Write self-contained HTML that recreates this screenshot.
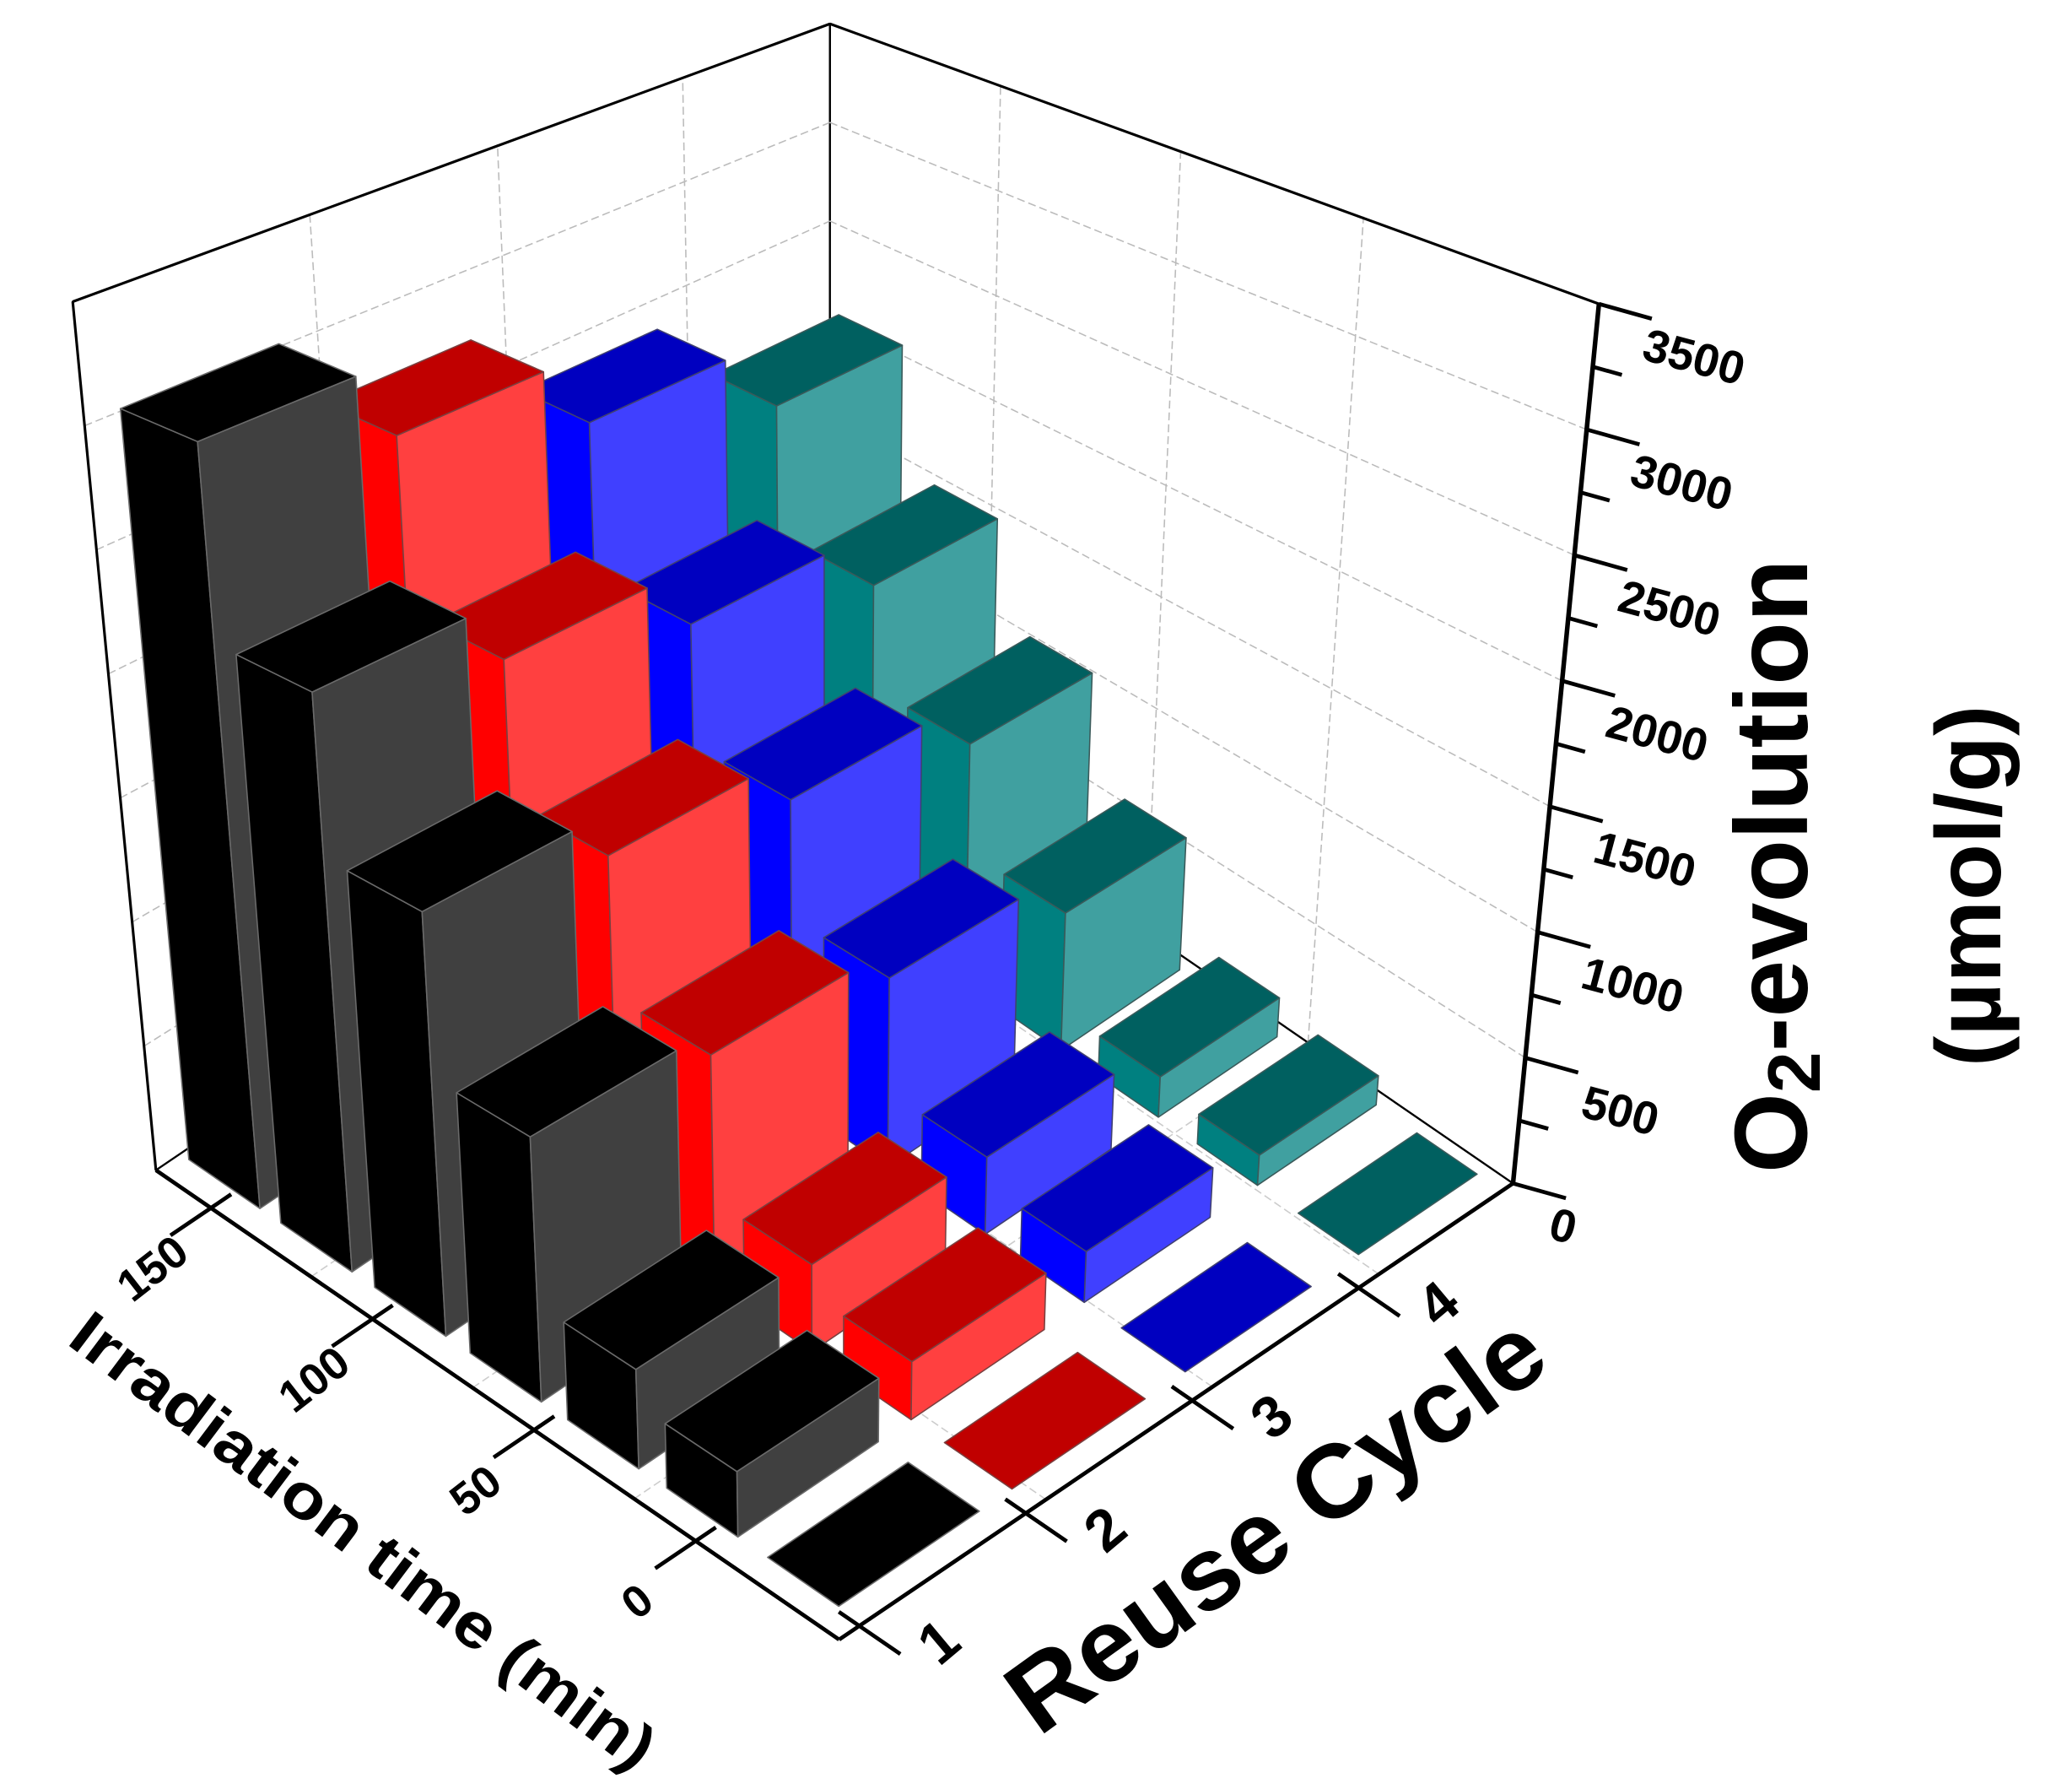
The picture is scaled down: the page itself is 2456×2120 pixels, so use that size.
<!DOCTYPE html>
<html><head><meta charset="utf-8">
<style>
html,body{margin:0;padding:0;background:#fff;}
svg{display:block;font-family:"Liberation Sans",Arial,sans-serif;}
</style></head>
<body>
<svg id="chart" xmlns="http://www.w3.org/2000/svg" width="2456" height="2120" viewBox="0 0 1568 1353" preserveAspectRatio="none">
<g id="walls"></g>
<g id="grid"></g>
<g id="bars"></g>
<g id="axes"></g>
<text x="275" y="1165" transform="rotate(37 275 1165)" text-anchor="middle" dominant-baseline="central" font-size="48" font-weight="bold" textLength="540" lengthAdjust="spacingAndGlyphs">Irradiation time (min)</text>
<text x="965" y="1152" transform="rotate(-35.7 965 1152)" text-anchor="middle" dominant-baseline="central" font-size="78" font-weight="bold" textLength="480" lengthAdjust="spacingAndGlyphs">Reuse Cycle</text>
<text x="1340" y="655" transform="rotate(-90 1340 655)" text-anchor="middle" dominant-baseline="central" font-size="78" font-weight="bold">O<tspan font-size="56" dy="18">2</tspan><tspan dy="-18">-evolution</tspan></text>
<text x="1490" y="670" transform="rotate(-90 1490 670)" text-anchor="middle" dominant-baseline="central" font-size="70" font-weight="bold">(µmol/g)</text>
</svg>
<script>
const times = [0, 25, 50, 75, 100, 125, 150];
const cycles = [1, 2, 3, 4];
const cycle1Values = [0, 230, 357, 975, 1600, 2240, 3040];
const cycle2Values = [0, 212, 326, 882, 1432, 2005, 2731];
const cycle3Values = [0, 194, 302, 762, 1250, 1761, 2425];
const cycle4Values = [0, 120, 165, 580, 1050, 1510, 2105];
const zTicks = [0, 500, 1000, 1500, 2000, 2500, 3000, 3500];
const timeTicks = [0, 50, 100, 150];
const zMax = 3500;

const NS = "http://www.w3.org/2000/svg";
const series = [cycle1Values, cycle2Values, cycle3Values, cycle4Values];
const palette = [
  {left:"#000000", right:"#404040", top:"#000000", edge:"#6a6a6a"},
  {left:"#ff0000", right:"#ff4040", top:"#c00000", edge:"#7a4040"},
  {left:"#0000ff", right:"#4040ff", top:"#0000c0", edge:"#404070"},
  {left:"#008080", right:"#40a0a0", top:"#006060", edge:"#3a5a5a"}
];
const F=[635,1240], L=[118,885], R=[1145,895], VP=[627,6195];
function floorPt(u,v){return [F[0]+u*(L[0]-F[0])+v*(R[0]-F[0]), F[1]+u*(L[1]-F[1])+v*(R[1]-F[1])];}
function proj(u,v,z){
  const b=floorPt(u,v); const r=-0.1569+0.0332*u+0.0314*v; const s=(z/zMax)*r;
  return [b[0]+s*(VP[0]-b[0]), b[1]+s*(VP[1]-b[1])];
}
const DU=0.105, DV=0.21;
function uOfTime(i){return 0.036+0.149*i-0.0013*i*i;}
function vOfCycle(j){return 0.036+0.257*j;}
function uTick(t){return 0.21+0.00473*t;}
function vTick(c){return 0.03+0.247*(c-1);}
function pts(a){return a.map(p=>p[0].toFixed(1)+","+p[1].toFixed(1)).join(" ");}
function poly(g,p,fill,stroke,sw){const e=document.createElementNS(NS,"polygon");e.setAttribute("points",pts(p));e.setAttribute("fill",fill);if(stroke){e.setAttribute("stroke",stroke);e.setAttribute("stroke-width",sw||1);e.setAttribute("stroke-linejoin","round");}g.appendChild(e);return e;}
function line(g,a,b,stroke,sw,dash){const e=document.createElementNS(NS,"line");e.setAttribute("x1",a[0]);e.setAttribute("y1",a[1]);e.setAttribute("x2",b[0]);e.setAttribute("y2",b[1]);e.setAttribute("stroke",stroke);e.setAttribute("stroke-width",sw);if(dash)e.setAttribute("stroke-dasharray",dash);g.appendChild(e);return e;}
function text(g,x,y,s,size,rot){const e=document.createElementNS(NS,"text");e.setAttribute("x",x);e.setAttribute("y",y);e.setAttribute("font-size",size);e.setAttribute("font-weight","bold");e.setAttribute("text-anchor","middle");e.setAttribute("dominant-baseline","central");e.setAttribute("transform","rotate("+rot+" "+x+" "+y+")");e.textContent=s;g.appendChild(e);return e;}

const walls=document.getElementById("walls"), grid=document.getElementById("grid"), barsG=document.getElementById("bars"), axes=document.getElementById("axes");
let w=poly(walls,[proj(1,0,0),proj(1,1,0),proj(1,1,zMax),proj(1,0,zMax)],"#fff","#000",1.5);


w=poly(walls,[proj(0,1,0),proj(1,1,0),proj(1,1,zMax),proj(0,1,zMax)],"#fff","#000",1.5);


for(const z of zTicks.slice(1,-1)){
  let g1=line(grid,proj(1,0,z),proj(1,1,z),"#bbb",1,"6,3");
  
  
  let g2=line(grid,proj(0,1,z),proj(1,1,z),"#bbb",1,"6,3");
  
  
}
for(const c of cycles.slice(1)){
  const v=vTick(c)+0.03;
  let g1=line(grid,proj(1,v,0),proj(1,v,zMax),"#bbb",1,"6,3");
  
  
  let g3=line(grid,proj(0,v,0),proj(1,v,0),"#ccc",1,"6,3");
  
  
}
for(const t of timeTicks.slice(0,3)){
  const u=uTick(t)+0.09;
  let g2=line(grid,proj(u,1,0),proj(u,1,zMax),"#bbb",1,"6,3");
  
  
  let g3=line(grid,proj(u,0,0),proj(u,1,0),"#ccc",1,"6,3");
  
  
}
const list=[];
series.forEach((vals,j)=>vals.forEach((val,i)=>list.push({i,j,val})));
list.sort((a,b)=>(uOfTime(b.i)+vOfCycle(b.j))-(uOfTime(a.i)+vOfCycle(a.j)));
for(const b of list){
  const u0=uOfTime(b.i), v0=vOfCycle(b.j);
  const shrink=1-0.2*v0;
  const u1=u0+DU*shrink, v1=v0+DV*shrink, z=b.val;
  const c=palette[b.j];
  const g=document.createElementNS(NS,"g");
  
  
  barsG.appendChild(g);
  if(z>0){
    poly(g,[proj(u0,v0,0),proj(u1,v0,0),proj(u1,v0,z),proj(u0,v0,z)],c.left,c.edge,1);
    poly(g,[proj(u0,v0,0),proj(u0,v1,0),proj(u0,v1,z),proj(u0,v0,z)],c.right,c.edge,1);
  }
  poly(g,[proj(u0,v0,z),proj(u1,v0,z),proj(u1,v1,z),proj(u0,v1,z)],c.top,c.edge,1);
}
let a;
a=line(axes,proj(1,0,0),proj(1,0,zMax),"#000",2);  
a=line(axes,proj(1,0,zMax),proj(1,1,zMax),"#000",2);  
a=line(axes,proj(1,1,zMax),proj(0,1,zMax),"#000",2);  
a=line(axes,proj(1,0,0),proj(0,0,0),"#000",3);  
a=line(axes,proj(0,0,0),proj(0,1,0),"#000",3);  
a=line(axes,proj(0,1,0),proj(0,1,zMax),"#000",3.5);  
for(let z=0; z<=zMax; z+=250){
  const p=proj(0,1,z), major=(z%500===0), len=major?40:22;
  const t=line(axes,p,[p[0]+len,p[1]+len*0.28],"#000",3);
  
  
}
zTicks.forEach(z=>{
  const p=proj(0,1,z);
  const t=text(axes,p[0]+(z===0?38:72),p[1]+(z===0?32:40),String(z),35,15);
  
  
});
timeTicks.forEach(tv=>{
  const u=uTick(tv);
  const t=line(axes,floorPt(u,-0.06),floorPt(u,0.03),"#000",3);
  
  
  const p=floorPt(u,0);
  const l=text(axes,p[0]-44,p[1]+46,String(tv),34,-38);
  
  
});
cycles.forEach(cv=>{
  const v=vTick(cv);
  const t=line(axes,floorPt(-0.06,v),floorPt(0.03,v),"#000",3);
  
  
  const p=floorPt(0,v);
  const l=text(axes,p[0]+60,p[1]+12,String(cv),44,-40);
  
  
});
</script>
</body></html>
